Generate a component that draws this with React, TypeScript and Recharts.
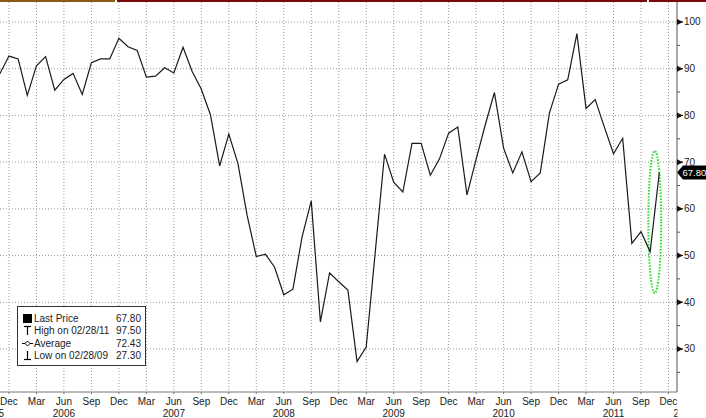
import {
  LineChart,
  Line,
  XAxis,
  YAxis,
  CartesianGrid,
  ReferenceLine,
  ReferenceArea
} from "recharts"

const monthNames = ["Jan", "Feb", "Mar", "Apr", "May", "Jun", "Jul", "Aug", "Sep", "Oct", "Nov", "Dec"]

// monthly closes, Nov 2005 .. Nov 2011
const firstYear = 2005
const firstMonth = 10
const prices = [
  88.9, 92.7, 92.1, 84.3, 90.6, 92.6, 85.4, 87.7, 89.0, 84.5, 91.3, 92.1,
  92.1, 96.5, 94.7, 93.9, 88.2, 88.4, 90.2, 89.1, 94.6, 89.4, 85.6, 80.1,
  69.2, 76.0, 69.7, 58.6, 49.8, 50.3, 47.5, 41.6, 42.8, 54.0, 61.7, 35.8,
  46.3, 44.4, 42.6, 27.3, 30.4, 51.0, 71.7, 65.7, 63.6, 74.0, 74.0, 67.2,
  70.7, 76.2, 77.5, 63.0, 70.6, 78.0, 84.9, 73.0, 67.7, 72.2, 65.8, 67.7,
  80.5, 86.7, 87.6, 97.5, 81.5, 83.4, 77.5, 71.8, 75.1, 52.6, 55.1, 50.8,
  67.8
]

const lastPrice = 67.8
const yTicks = [25, 30, 35, 40, 45, 50, 55, 60, 65, 70, 75, 80, 85, 90, 95, 100]
const yGrid = [30, 40, 50, 60, 70, 80, 90, 100]
const xTicks = Array.from({ length: prices.length + 1 }, (_, i) => i)
  .filter(i => ((firstMonth + i) % 12) % 3 === 2)

const legendRows = [
  { icon: "last", label: "Last Price", value: "67.80" },
  { icon: "high", label: "High on 02/28/11", value: "97.50" },
  { icon: "avg", label: "Average", value: "72.43" },
  { icon: "low", label: "Low on 02/28/09", value: "27.30" }
]

// dotted circle drawn around the last swing
const highlight = { x1: 70.8, x2: 72.2, y1: 42.0, y2: 72.4 }

const data = prices.map((price, i) => ({ i, price }))

const FONT = "'Liberation Sans', Arial, sans-serif"

function MonthTick(props: any) {
  const { x, y, payload } = props
  const i = payload.value
  const mo = (firstMonth + i) % 12
  const yr = firstYear + Math.floor((firstMonth + i) / 12)
  const first = i === xTicks[0]
  const last = i === xTicks[xTicks.length - 1]
  return (
    <g fontFamily={FONT} fontSize={10} fill="#222">
      <line x1={x} x2={x} y1={y} y2={y + 2} stroke="#777" />
      <text x={x} y={y + 12.5} textAnchor="middle">{monthNames[mo]}</text>
      {mo === 5 && <text x={x} y={y + 24.5} textAnchor="middle">{yr}</text>}
      {first && <text x={x - 5} y={y + 24.5} textAnchor="end">{yr}</text>}
      {last && (
        <g>
          <clipPath id="yearClip">
            <rect x={0} y={0} width={x + 9} height={418} />
          </clipPath>
          <text x={x + 5} y={y + 24.5} textAnchor="start" clipPath="url(#yearClip)">{yr + 1}</text>
        </g>
      )}
    </g>
  )
}

function PriceTick(props: any) {
  const { x, y, payload } = props
  const v = payload.value
  if (v % 10 !== 0) {
    return <line x1={x} x2={x + 3} y1={y} y2={y} stroke="#555" />
  }
  return (
    <g>
      <polygon points={`${x},${y - 3} ${x + 6},${y} ${x},${y + 3}`} fill="#111" />
      <line x1={x} x2={x + 6} y1={y} y2={y} stroke="#111" />
      <text x={x + 7} y={y + 3.5} fontFamily={FONT} fontSize={10} fill="#222">{v}</text>
    </g>
  )
}

function LastPriceTag(props: any) {
  const vb = props.viewBox || {}
  const x = vb.x + vb.width
  const y = vb.y
  return (
    <g>
      <polygon
        points={`${x},${y} ${x + 6},${y - 7} ${x + 40},${y - 7} ${x + 40},${y + 7} ${x + 6},${y + 7}`}
        fill="#000"
      />
      <text x={x + 5.5} y={y + 3.5} fontFamily={FONT} fontSize={9.5} fill="#fff">
        {lastPrice.toFixed(2)}
      </text>
    </g>
  )
}

function LegendIcon({ kind }: { kind: string }) {
  return (
    <svg width={11} height={11} style={{ display: "block" }}>
      {kind === "last" && <rect x={1} y={1} width={9} height={9} fill="#000" />}
      {kind === "high" && (
        <g stroke="#000" strokeWidth={1.2}>
          <line x1={2} x2={9} y1={1.5} y2={1.5} />
          <line x1={5.5} x2={5.5} y1={1.5} y2={10} />
        </g>
      )}
      {kind === "avg" && (
        <g stroke="#000" strokeWidth={1}>
          <line x1={0} x2={11} y1={5.5} y2={5.5} />
          <polygon points="5.5,3 8,5.5 5.5,8 3,5.5" fill="#fff" />
        </g>
      )}
      {kind === "low" && (
        <g stroke="#000" strokeWidth={1.2}>
          <line x1={5.5} x2={5.5} y1={1} y2={9.5} />
          <line x1={2} x2={9} y1={9.5} y2={9.5} />
        </g>
      )}
    </svg>
  )
}

export default function App() {
  return (
    <div style={{ position: "absolute", left: 0, top: 0, width: 706, height: 418, background: "#fff", overflow: "hidden" }}>

      <div style={{ position: "absolute", left: 0, top: 0, width: 115, height: 2, background: "#8a5a10" }} />
      <div style={{ position: "absolute", left: 117, top: 0, width: 530, height: 2, background: "#7a0a0a" }} />
      <div style={{ position: "absolute", left: 649, top: 0, width: 57, height: 2, background: "#7a0a0a" }} />

      <LineChart width={706} height={418} data={data} margin={{ top: 2, right: 0, bottom: 0, left: 0 }}>

        <CartesianGrid
          stroke="#9a9a9a"
          strokeDasharray="1 2"
          horizontalValues={yGrid}
          verticalValues={xTicks}
        />

        <XAxis
          dataKey="i"
          type="number"
          domain={[0.02, 73.93]}
          allowDataOverflow
          ticks={xTicks}
          interval={0}
          height={26}
          tickSize={0}
          tickMargin={0}
          axisLine={{ stroke: "#777" }}
          tickLine={false}
          tick={<MonthTick />}
        />

        <YAxis
          orientation="right"
          type="number"
          domain={[20.79, 104.28]}
          allowDataOverflow
          ticks={yTicks}
          interval={0}
          width={29}
          tickSize={0}
          tickMargin={0}
          axisLine={{ stroke: "#555" }}
          tickLine={false}
          tick={<PriceTick />}
        />

        <Line
          type="linear"
          dataKey="price"
          stroke="#1a1a1a"
          strokeWidth={1.2}
          dot={false}
          isAnimationActive={false}
        />

        <ReferenceArea
          x1={highlight.x1}
          x2={highlight.x2}
          y1={highlight.y1}
          y2={highlight.y2}
          shape={(p: any) => (
            <ellipse
              cx={p.x + p.width / 2}
              cy={p.y + p.height / 2}
              rx={p.width / 2}
              ry={p.height / 2}
              fill="none"
              stroke="#22e022"
              strokeWidth={2}
              strokeDasharray="1.5 1.5"
            />
          )}
        />

        <ReferenceLine y={lastPrice} stroke="none" label={(p: any) => <LastPriceTag {...p} />} />

      </LineChart>

      <div
        style={{
          position: "absolute",
          left: 17,
          top: 306,
          width: 129,
          height: 60,
          boxSizing: "border-box",
          border: "1px solid #333",
          background: "#fff",
          padding: "5px 4px 0 4px",
          fontFamily: FONT,
          fontSize: 10,
          color: "#222"
        }}
      >
        {legendRows.map(row => (
          <div key={row.label} style={{ display: "flex", alignItems: "center", height: 12.5 }}>
            <LegendIcon kind={row.icon} />
            <span style={{ marginLeft: 1 }}>{row.label}</span>
            <span style={{ marginLeft: "auto" }}>{row.value}</span>
          </div>
        ))}
      </div>

    </div>
  )
}
